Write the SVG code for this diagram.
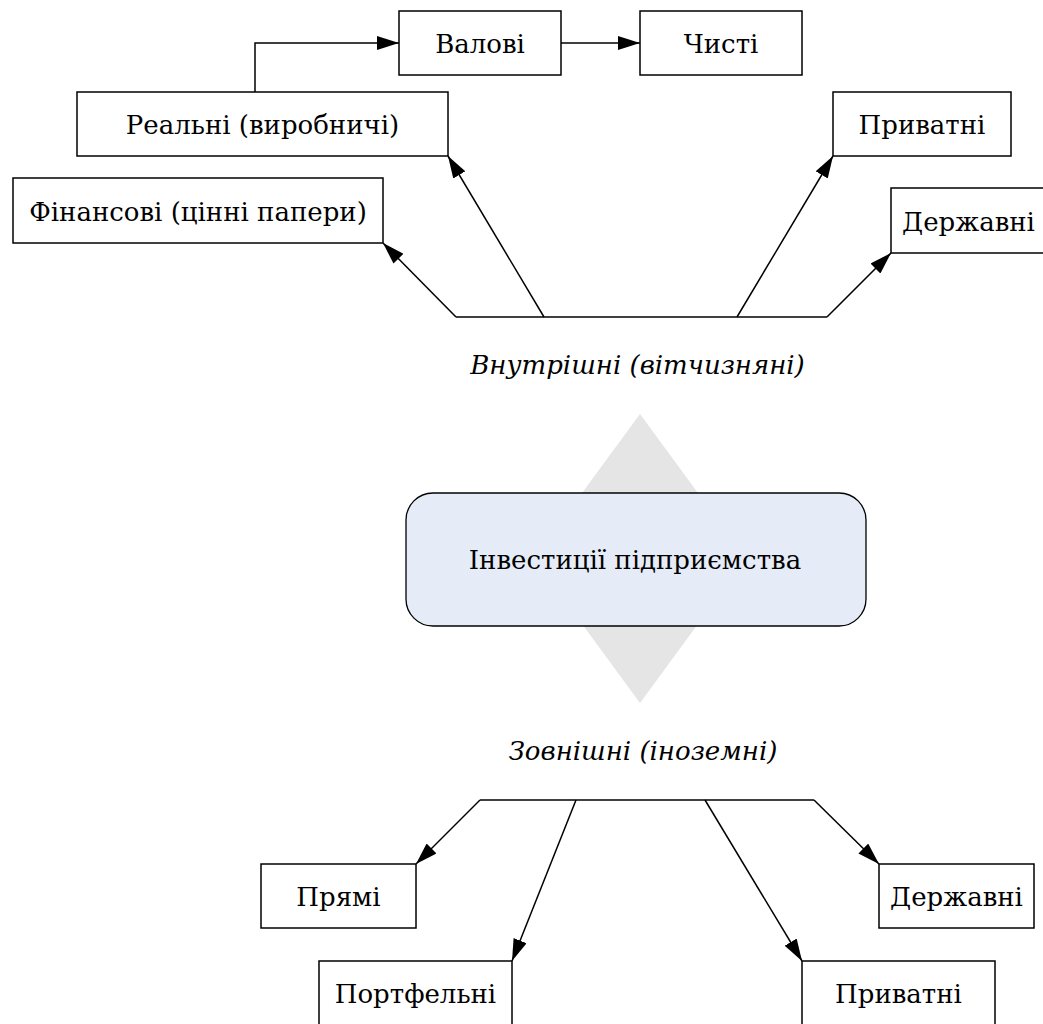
<svg xmlns="http://www.w3.org/2000/svg" width="1043" height="1024" viewBox="0 0 1043 1024">
  <style>
    .box { fill: #ffffff; stroke: #000000; stroke-width: 1.5; }
    text { font-family: 'DejaVu Serif', serif; font-size: 26px; fill: #000000; text-anchor: middle; }
    .cat { font-style: italic; }
    .wire { fill: none; stroke: #000000; stroke-width: 1.5; }
  </style>
  <defs>
    <marker id="arrow" markerUnits="userSpaceOnUse" viewBox="0 0 22 14" markerWidth="22" markerHeight="14" refX="22" refY="7" orient="auto">
      <path d="M0,0 L22,7 L0,14 z" fill="#000000"/>
    </marker>
  </defs>
  <rect width="1043" height="1024" fill="#ffffff"/>

  <!-- central grey diamond behind the main node -->
  <polygon points="640,414 746,558.5 640,703 534,558.5" fill="#e5e5e5"/>

  <!-- connectors -->
  <g id="connectors">
    <polyline class="wire" points="255,92 255,43 399,43" marker-end="url(#arrow)"/>
    <line class="wire" x1="561" y1="43" x2="640" y2="43" marker-end="url(#arrow)"/>
    <line class="wire" x1="456" y1="317" x2="827" y2="317"/>
    <line class="wire" x1="456" y1="317" x2="383" y2="243" marker-end="url(#arrow)"/>
    <line class="wire" x1="544" y1="317" x2="448" y2="156" marker-end="url(#arrow)"/>
    <line class="wire" x1="737" y1="317" x2="833" y2="156" marker-end="url(#arrow)"/>
    <line class="wire" x1="827" y1="317" x2="891" y2="253" marker-end="url(#arrow)"/>
    <line class="wire" x1="480" y1="800" x2="814" y2="800"/>
    <line class="wire" x1="480" y1="800" x2="416" y2="864" marker-end="url(#arrow)"/>
    <line class="wire" x1="576" y1="800" x2="512" y2="961" marker-end="url(#arrow)"/>
    <line class="wire" x1="705" y1="800" x2="802" y2="961" marker-end="url(#arrow)"/>
    <line class="wire" x1="814" y1="800" x2="879" y2="864" marker-end="url(#arrow)"/>
  </g>

  <!-- domestic branch -->
  <g id="node-valovi">
    <rect class="box" x="399" y="11" width="162" height="64"/>
    <text x="480" y="53">Валові</text>
  </g>
  <g id="node-chysti">
    <rect class="box" x="640" y="11" width="162" height="64"/>
    <text x="721" y="53">Чисті</text>
  </g>
  <g id="node-realni">
    <rect class="box" x="77" y="92" width="371" height="64"/>
    <text x="262.5" y="134">Реальні (виробничі)</text>
  </g>
  <g id="node-finansovi">
    <rect class="box" x="13" y="178" width="370" height="65"/>
    <text x="198" y="221">Фінансові (цінні папери)</text>
  </g>
  <g id="node-pryvatni-top">
    <rect class="box" x="833" y="92" width="178" height="64"/>
    <text x="922" y="134">Приватні</text>
  </g>
  <g id="node-derzhavni-top">
    <rect class="box" x="891" y="188" width="156" height="65"/>
    <text x="968.5" y="231">Державні</text>
  </g>
  <g id="label-vnutrishni">
    <text class="cat" x="637.5" y="374">Внутрішні (вітчизняні)</text>
  </g>

  <!-- main node -->
  <g id="node-investytsii">
    <rect x="406" y="493" width="460" height="133" rx="27" ry="27" fill="#e6ecf7" stroke="#000000" stroke-width="1.3"/>
    <text x="635" y="569">Інвестиції підприємства</text>
  </g>

  <!-- foreign branch -->
  <g id="label-zovnishni">
    <text class="cat" x="643" y="760">Зовнішні (іноземні)</text>
  </g>
  <g id="node-priami">
    <rect class="box" x="261" y="864" width="155" height="64"/>
    <text x="338.5" y="906">Прямі</text>
  </g>
  <g id="node-portfelni">
    <rect class="box" x="319" y="961" width="193" height="70"/>
    <text x="415.5" y="1003">Портфельні</text>
  </g>
  <g id="node-derzhavni-bottom">
    <rect class="box" x="879" y="864" width="155" height="64"/>
    <text x="956.5" y="906">Державні</text>
  </g>
  <g id="node-pryvatni-bottom">
    <rect class="box" x="802" y="961" width="193" height="70"/>
    <text x="898.5" y="1003">Приватні</text>
  </g>
</svg>
